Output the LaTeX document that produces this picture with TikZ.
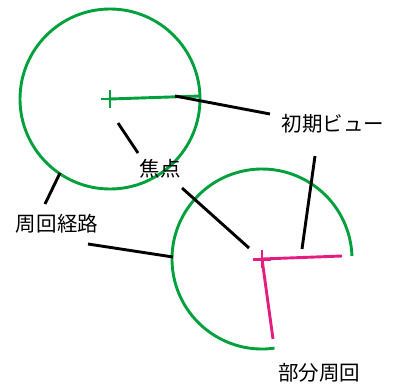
\documentclass[tikz,border=0pt]{standalone}
\usepackage{fontspec}
\usetikzlibrary{calc}
\newfontfamily\jpfont{Noto Sans CJK JP}
\definecolor{pathgreen}{RGB}{0,160,60}
\definecolor{viewmag}{RGB}{228,30,128}
\begin{document}
\begin{tikzpicture}[x=1pt,y=-1pt,
  gline/.style={pathgreen,line width=2.9pt},
  mline/.style={viewmag,line width=2.9pt},
  leader/.style={black,line width=2.9pt},
  lbl/.style={font=\jpfont\fontsize{20.5}{24}\selectfont,inner sep=0pt,anchor=center}]
\useasboundingbox (0,0) rectangle (398,385);
% full circle
\coordinate (c1) at (110,99);
\draw[gline] (c1) circle (90);
\draw[gline] (101,99) -- (119,99) (110,90) -- (110,108);
\coordinate (v1) at (200,96);
\draw[gline] (c1) -- (v1);
% partial circle
\coordinate (c2) at (262,259);
\draw[gline] ($(c2)+(82:90)$) arc (82:358:90);
\draw[mline] (253,259.5) -- (271,259.5) (262,250) -- (262,268);
\coordinate (v2) at (342,256);
\coordinate (p2) at (273,339);
\draw[mline] (c2) -- (v2);
\draw[mline] (c2) -- (p2);
% labels
\node[lbl] (focus) at (160,169) {焦点};
\node[lbl] (init) at (333,124) {初期ビュー};
\node[lbl] (orbit) at (57,224) {周回経路};
\node[lbl] (part) at (319,373) {部分周回};
% leaders
\coordinate (i1a) at (175,96);
\coordinate (i1b) at (270,114);
\draw[leader] (i1a) -- (i1b);
\coordinate (i2a) at (315,156);
\coordinate (i2b) at (302,249);
\draw[leader] (i2a) -- (i2b);
\coordinate (f1a) at (118,123);
\coordinate (f1b) at (138,153);
\draw[leader] (f1a) -- (f1b);
\coordinate (f2a) at (182,188);
\coordinate (f2b) at (249,248);
\draw[leader] (f2a) -- (f2b);
\coordinate (o1a) at (45,204);
\coordinate (o1b) at (60,173);
\draw[leader] (o1a) -- (o1b);
\coordinate (o2a) at (88,244);
\coordinate (o2b) at (173,257);
\draw[leader] (o2a) -- (o2b);
\end{tikzpicture}
\end{document}
